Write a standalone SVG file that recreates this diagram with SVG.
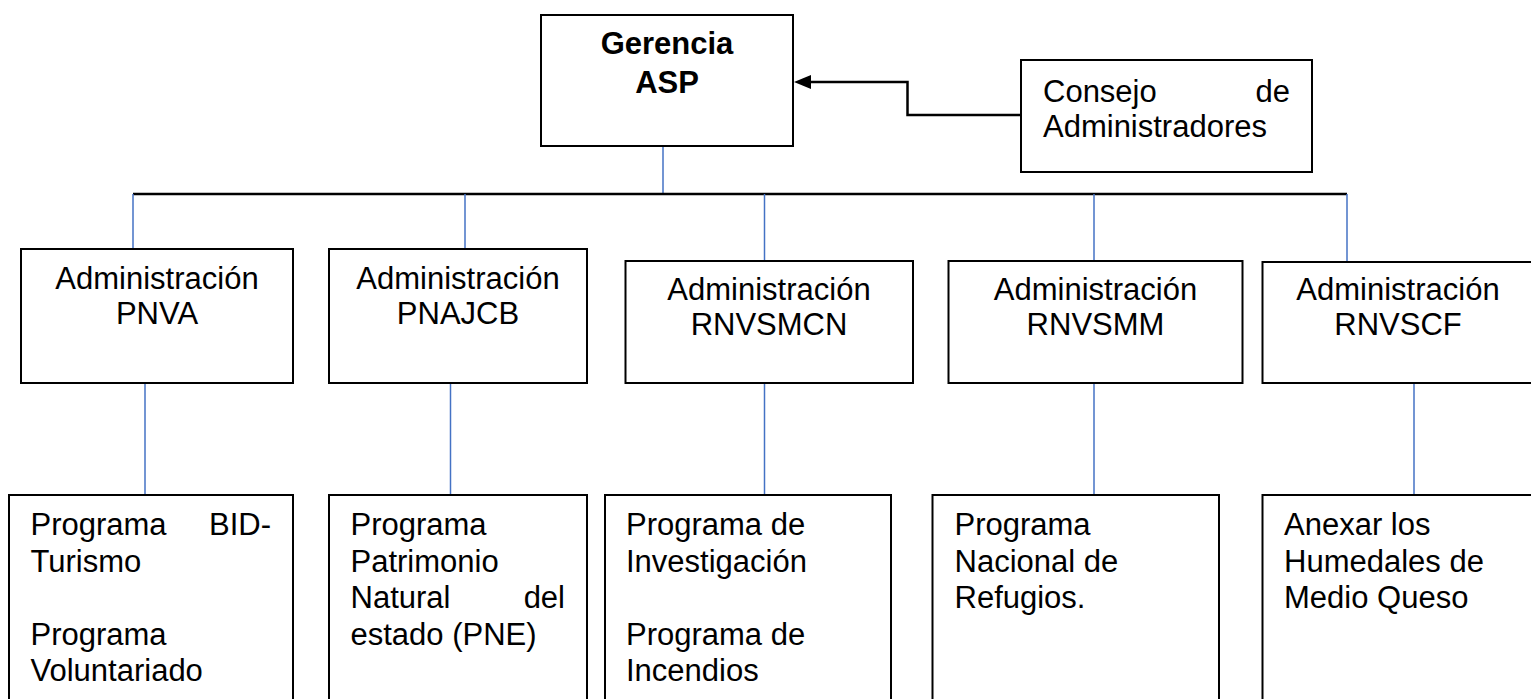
<svg xmlns="http://www.w3.org/2000/svg" width="1531" height="699" viewBox="0 0 1531 699">
<style>
.box{fill:#fff;stroke:#000;stroke-width:2}
.t{font-family:"Liberation Sans",Arial,sans-serif;font-size:31px;fill:#000}
.b{font-weight:bold}
.c{text-anchor:middle}
.e{text-anchor:end}
.blue{stroke:#4472C4;stroke-width:1.5;fill:none}
.blk{stroke:#000;stroke-width:2.5;fill:none}
</style>
<rect width="1531" height="699" fill="#fff"/>
<g id="connectors">
<line class="blue" x1="663" y1="146" x2="663" y2="194"/>
<line class="blk" x1="133" y1="194" x2="1347" y2="194"/>
<line class="blue" x1="133" y1="194" x2="133" y2="249"/>
<line class="blue" x1="465" y1="194" x2="465" y2="249"/>
<line class="blue" x1="764.5" y1="194" x2="764.5" y2="261"/>
<line class="blue" x1="1094" y1="194" x2="1094" y2="261"/>
<line class="blue" x1="1347" y1="194" x2="1347" y2="262"/>
<line class="blue" x1="145" y1="383" x2="145" y2="495"/>
<line class="blue" x1="450.5" y1="383" x2="450.5" y2="495"/>
<line class="blue" x1="764.5" y1="383" x2="764.5" y2="495"/>
<line class="blue" x1="1094" y1="383" x2="1094" y2="495"/>
<line class="blue" x1="1414" y1="383" x2="1414" y2="495"/>
<path class="blk" d="M1021 115 H907.5 V82 H808"/>
<polygon points="794,82 811,75 811,89" fill="#000"/>
</g>
<g id="gerencia">
<rect class="box" x="541" y="15" width="252" height="131"/>
<text class="t b c" x="667" y="54">Gerencia</text>
<text class="t b c" x="667" y="93">ASP</text>
</g>
<g id="consejo">
<rect class="box" x="1021" y="60" width="291" height="112"/>
<text class="t" x="1043" y="102">Consejo</text>
<text class="t e" x="1290" y="102">de</text>
<text class="t" x="1043" y="137">Administradores</text>
</g>
<g id="adm-pnva">
<rect class="box" x="21" y="249" width="272" height="134"/>
<text class="t c" x="157" y="289">Administración</text>
<text class="t c" x="157" y="324">PNVA</text>
</g>
<g id="adm-pnajcb">
<rect class="box" x="329" y="249" width="258" height="134"/>
<text class="t c" x="458" y="289">Administración</text>
<text class="t c" x="458" y="324">PNAJCB</text>
</g>
<g id="adm-rnvsmcn">
<rect class="box" x="625.5" y="261" width="287.5" height="122"/>
<text class="t c" x="769" y="300">Administración</text>
<text class="t c" x="769" y="335">RNVSMCN</text>
</g>
<g id="adm-rnvsmm">
<rect class="box" x="948.5" y="261" width="294" height="122"/>
<text class="t c" x="1095.5" y="300">Administración</text>
<text class="t c" x="1095.5" y="335">RNVSMM</text>
</g>
<g id="adm-rnvscf">
<rect class="box" x="1262.5" y="262" width="272" height="121"/>
<text class="t c" x="1398" y="300">Administración</text>
<text class="t c" x="1398" y="335">RNVSCF</text>
</g>
<g id="prog-1">
<rect class="box" x="9" y="495" width="284" height="215"/>
<text class="t" x="30.5" y="535">Programa</text>
<text class="t e" x="271" y="535">BID-</text>
<text class="t" x="30.5" y="571.6">Turismo</text>
<text class="t" x="30.5" y="644.8">Programa</text>
<text class="t" x="30.5" y="681.4">Voluntariado</text>
</g>
<g id="prog-2">
<rect class="box" x="329" y="495" width="258" height="215"/>
<text class="t" x="350.5" y="535">Programa</text>
<text class="t" x="350.5" y="571.6">Patrimonio</text>
<text class="t" x="350.5" y="608.2">Natural</text>
<text class="t e" x="565" y="608.2">del</text>
<text class="t" x="350.5" y="644.8">estado (PNE)</text>
</g>
<g id="prog-3">
<rect class="box" x="605" y="495" width="286" height="215"/>
<text class="t" x="626" y="535">Programa de</text>
<text class="t" x="626" y="571.6">Investigación</text>
<text class="t" x="626" y="644.8">Programa de</text>
<text class="t" x="626" y="681.4">Incendios</text>
</g>
<g id="prog-4">
<rect class="box" x="932.5" y="495" width="286.5" height="215"/>
<text class="t" x="954.5" y="535">Programa</text>
<text class="t" x="954.5" y="571.6">Nacional de</text>
<text class="t" x="954.5" y="608.2">Refugios.</text>
</g>
<g id="prog-5">
<rect class="box" x="1262.5" y="495" width="272" height="215"/>
<text class="t" x="1284" y="535">Anexar los</text>
<text class="t" x="1284" y="571.6">Humedales de</text>
<text class="t" x="1284" y="608.2">Medio Queso</text>
</g>
</svg>
